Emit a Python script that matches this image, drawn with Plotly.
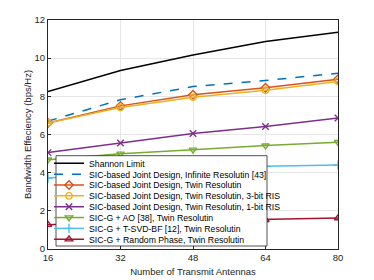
import plotly.graph_objects as go

antennas = [16, 32, 48, 64, 80]
shannon = [8.25, 9.35, 10.17, 10.87, 11.36]
infinite = [6.7, 7.82, 8.51, 8.83, 9.21]
twin = [6.6, 7.5, 8.08, 8.45, 8.9]
twin_3bit = [6.6, 7.42, 7.95, 8.32, 8.78]
twin_1bit = [5.05, 5.56, 6.05, 6.42, 6.86]
sicg_ao = [4.68, 4.99, 5.2, 5.42, 5.6]
sicg_tsvd = [3.72, 4.0, 4.2, 4.33, 4.4]
sicg_random = [1.27, 1.4, 1.48, 1.53, 1.62]

series = [
    ("Shannon Limit", shannon, "#000000", "solid", None),
    ("SIC-based Joint Design, Infinite Resolutin [43]", infinite, "#0072BD", "dash", None),
    ("SIC-based Joint Design, Twin Resolutin", twin, "#D95319", "solid", "diamond-open"),
    ("SIC-based Joint Design, Twin Resolutin, 3-bit RIS", twin_3bit, "#EDB120", "solid", "circle-open"),
    ("SIC-based Joint Design, Twin Resolutin, 1-bit RIS", twin_1bit, "#7E2F8E", "solid", "x-thin-open"),
    ("SIC-G + AO [38], Twin Resolutin", sicg_ao, "#77AC30", "solid", "triangle-down-open"),
    ("SIC-G + T-SVD-BF [12], Twin Resolutin", sicg_tsvd, "#4DBEEE", "solid", "cross-thin-open"),
    ("SIC-G + Random Phase, Twin Resolutin", sicg_random, "#A2142F", "solid", "triangle-up-open"),
]

# plot area in pixels
L, R, T, B = 48, 338, 20, 249
W, H = 374, 280

fig = go.Figure()
legend_layouts = {}
row0, row_step = 163.3, 10.85
for i, (name, ys, color, dash, sym) in enumerate(series):
    mode = "lines+markers" if sym else "lines"
    lg = "legend" if i == 0 else f"legend{i+1}"
    fig.add_trace(go.Scatter(
        x=antennas, y=ys, name=name, mode=mode, legend=lg,
        line=dict(color=color, width=1.5, dash=dash),
        marker=dict(symbol=sym or "circle", size=6.5, color=color,
                    line=dict(color=color, width=1.4)),
    ))
    ypix = row0 + i * row_step
    legend_layouts[lg] = dict(
        x=(49 - L) / (R - L), y=(B - ypix) / (B - T),
        xanchor="left", yanchor="middle",
        bgcolor="rgba(0,0,0,0)", borderwidth=0,
        font=dict(family="Liberation Sans, Arial", size=8.7, color="#000000"),
        itemwidth=30,
    )

axis_common = dict(
    showline=True, linecolor="#262626", linewidth=1, mirror=True,
    showgrid=True, gridcolor="#E6E6E6", gridwidth=1,
    ticks="inside", ticklen=3, tickcolor="#262626",
    tickfont=dict(family="Liberation Sans, Arial", size=9.5, color="#262626"),
    zeroline=False, automargin=False,
)

fig.update_layout(
    width=W, height=H,
    margin=dict(l=L, r=W - R, t=T, b=H - B),
    paper_bgcolor="white", plot_bgcolor="white",
    font=dict(family="Liberation Sans, Arial", color="#262626"),
    xaxis=dict(range=[16, 80], tickvals=antennas,
               title=dict(text="Number of Transmit Antennas", font=dict(size=9.5), standoff=5),
               **axis_common),
    yaxis=dict(range=[0, 12], tickvals=[0, 2, 4, 6, 8, 10, 12],
               title=dict(text="Bandwidth Effeciency (bps/Hz)", font=dict(size=9.5), standoff=1),
               **axis_common),
    showlegend=True,
    shapes=[dict(
        type="rect", xref="paper", yref="paper", layer="above",
        x0=(56 - L) / (R - L), x1=(267 - L) / (R - L),
        y0=(B - 246) / (B - T), y1=(B - 155.7) / (B - T),
        fillcolor="white", line=dict(color="#262626", width=0.8),
    )],
    **legend_layouts,
)

fig.write_html("out.html", config={"displayModeBar": False},
               post_script="document.body.style.margin='0';")
